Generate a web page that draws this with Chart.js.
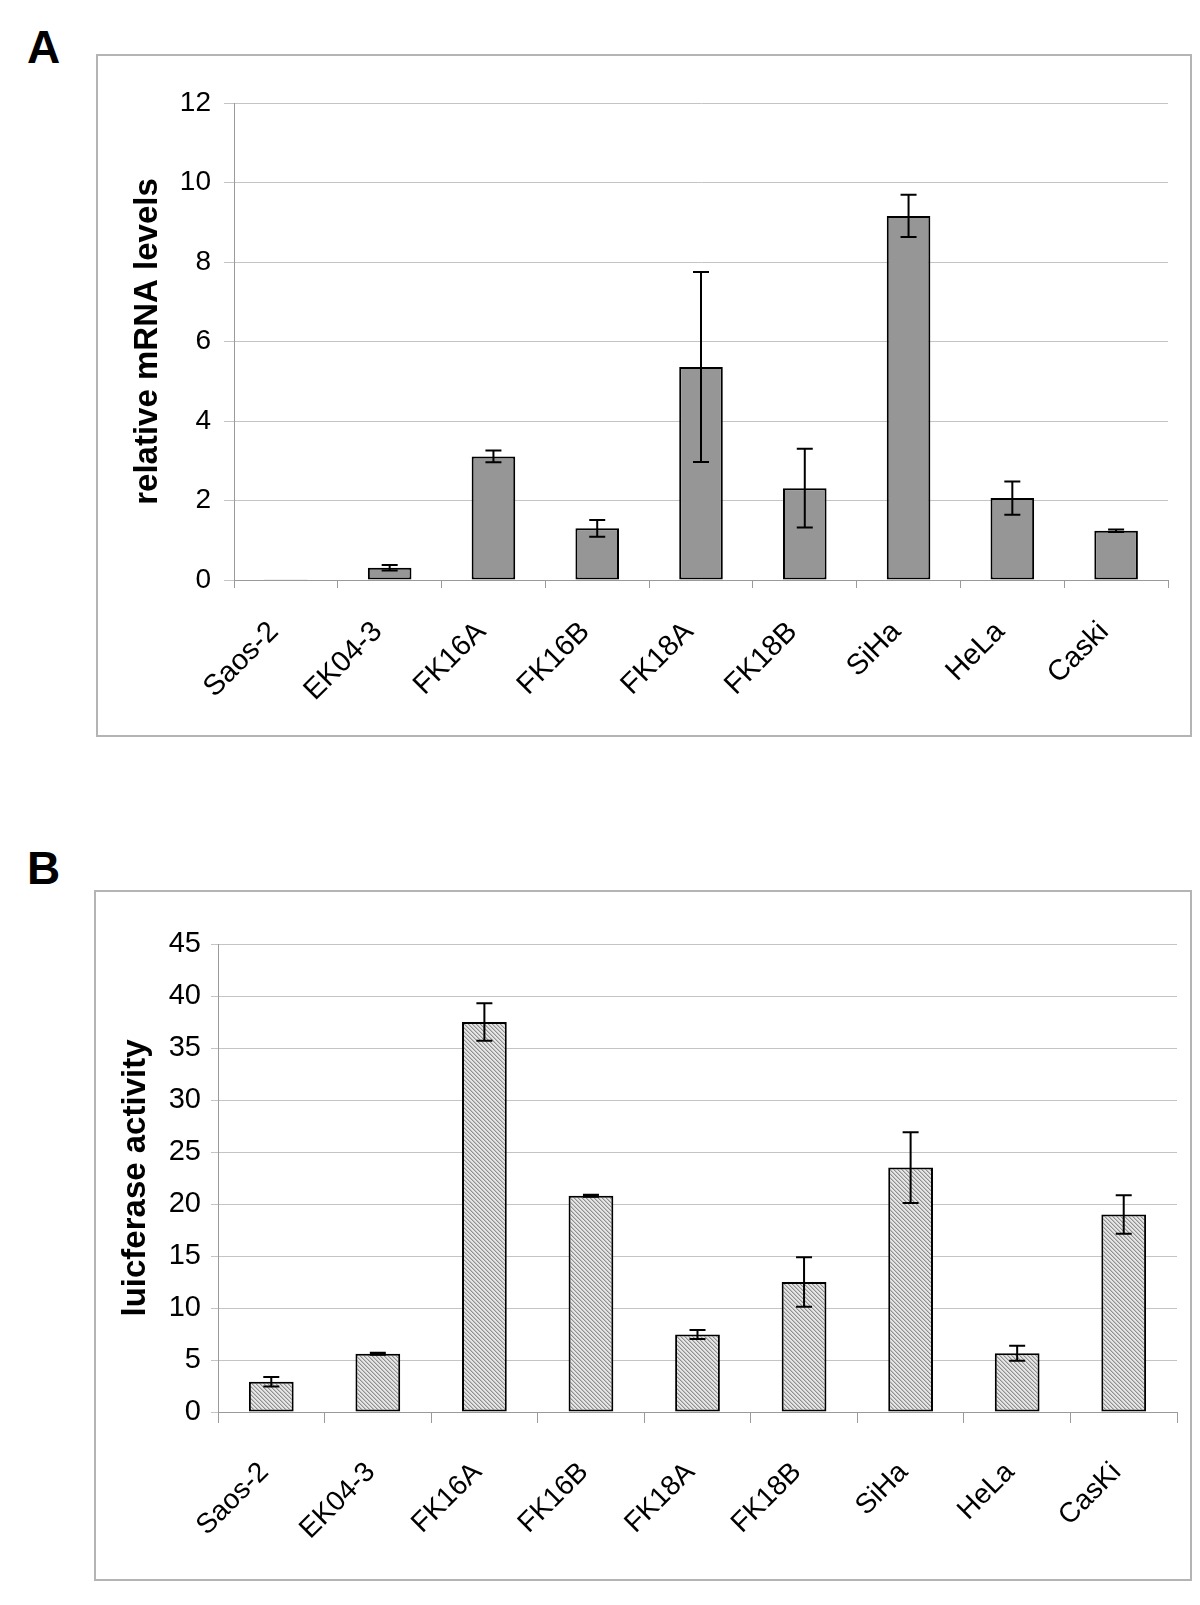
<!DOCTYPE html>
<html>
<head>
<meta charset="utf-8">
<script src="https://cdn.jsdelivr.net/npm/chart.js@4.4.1/dist/chart.umd.min.js"></script>
<style>
  body { margin: 0; background: #fff; width: 1200px; height: 1605px; position: relative; font-family: "Liberation Sans", Arial, sans-serif; }
  .frame { position: absolute; border: 2px solid #b4b4b4; background: #fff; }
  .panel-letter { position: absolute; font-weight: bold; font-size: 46px; line-height: 46px; color: #000; }
  canvas { display: block; }
</style>
</head>
<body>
<div class="panel-letter" style="left:27px; top:24px;">A</div>
<div class="frame" style="left:96px; top:54px; width:1092px; height:679px;">
  <canvas id="chartA" width="1092" height="679"></canvas>
</div>
<div class="panel-letter" style="left:27px; top:845px;">B</div>
<div class="frame" style="left:94px; top:890px; width:1094px; height:687px;">
  <canvas id="chartB" width="1094" height="687"></canvas>
</div>

<script>
// cell lines (x categories)
const cellLinesA = ["Saos-2", "EK04-3", "FK16A", "FK16B", "FK18A", "FK18B", "SiHa", "HeLa", "Caski"];
const cellLinesB = ["Saos-2", "EK04-3", "FK16A", "FK16B", "FK18A", "FK18B", "SiHa", "HeLa", "CasKi"];

// panel A: relative mRNA levels, mean and error
const mrnaLevels = [0.02, 0.31, 3.11, 1.30, 5.36, 2.31, 9.16, 2.06, 1.24];
const mrnaErrors = [0, 0.07, 0.15, 0.21, 2.39, 0.99, 0.53, 0.42, 0.03];

// panel B: luciferase activity, mean and error
const luciferase = [2.9, 5.6, 37.5, 20.8, 7.45, 12.5, 23.5, 5.65, 19.0];
const luciferaseErrors = [0.46, 0.1, 1.8, 0.1, 0.44, 2.38, 3.4, 0.72, 1.85];

// y axis ticks
const yTicksA = { min: 0, max: 12, step: 2 };
const yTicksB = { min: 0, max: 45, step: 5 };

// draws error bars from dataset.errors using the y scale
const errorBarPlugin = {
    id: "errorBars",
    afterDatasetsDraw(chart) {
        const ctx = chart.ctx;
        const yScale = chart.scales.y;
        chart.data.datasets.forEach((ds, i) => {
            const meta = chart.getDatasetMeta(i);
            meta.data.forEach((bar, j) => {
                const err = ds.errors[j];
                if (!err) return;
                const v = ds.data[j];
                const yTop = yScale.getPixelForValue(v + err);
                const yBot = yScale.getPixelForValue(v - err);
                ctx.save();
                ctx.strokeStyle = "#000";
                ctx.lineWidth = 2;
                ctx.beginPath();
                ctx.moveTo(bar.x, yTop);
                ctx.lineTo(bar.x, yBot);
                ctx.moveTo(bar.x - 8, yTop);
                ctx.lineTo(bar.x + 8, yTop);
                ctx.moveTo(bar.x - 8, yBot);
                ctx.lineTo(bar.x + 8, yBot);
                ctx.stroke();
                ctx.restore();
            });
        });
    }
};

// diagonal hatch fill for panel B
function makeHatch() {
    const c = document.createElement("canvas");
    c.width = 4;
    c.height = 4;
    const g = c.getContext("2d");
    g.fillStyle = "#e6e6e6";
    g.fillRect(0, 0, 4, 4);
    g.fillStyle = "#909090";
    for (let i = 0; i < 4; i++) g.fillRect(i, i, 1, 1);
    g.fillStyle = "#c0c0c0";
    for (let i = 0; i < 4; i++) g.fillRect((i + 1) % 4, i, 1, 1);
    return g.createPattern(c, "repeat");
}

function buildChart(id, o) {
    return new Chart(document.getElementById(id), {
        type: "bar",
        data: {
            labels: o.labels,
            datasets: [{
                data: o.values,
                errors: o.errors,
                backgroundColor: o.fill,
                borderColor: "#000",
                borderWidth: 2,
                borderSkipped: false,
                categoryPercentage: 1,
                barPercentage: 0.42
            }]
        },
        options: {
            responsive: false,
            devicePixelRatio: 1,
            animation: false,
            layout: { padding: o.padding },
            plugins: { legend: { display: false }, tooltip: { enabled: false } },
            scales: {
                x: {
                    afterFit: s => { s.height = o.xHeight; },
                    grid: { display: true, drawOnChartArea: false, offset: true, tickLength: o.xTick, color: "#9a9a9a", lineWidth: 1 },
                    border: { color: "#9a9a9a", width: 1 },
                    ticks: {
                        autoSkip: false, minRotation: 45, maxRotation: 45,
                        padding: o.xPad, labelOffset: o.xShift, color: "#000",
                        font: { family: "Liberation Sans", size: o.xFontSize }
                    }
                },
                y: {
                    min: o.yTicks.min,
                    max: o.yTicks.max,
                    afterFit: s => { s.width = o.yWidth; },
                    grid: { color: "#c4c4c4", lineWidth: 1, tickLength: o.yTick },
                    border: { color: "#9a9a9a", width: 1 },
                    ticks: {
                        stepSize: o.yTicks.step, padding: o.yPad, color: "#000",
                        font: { family: "Liberation Sans", size: o.yFontSize }
                    },
                    title: {
                        display: true, text: o.title, color: "#000",
                        font: { family: "Liberation Sans", size: 33, weight: "bold" },
                        padding: { top: o.titlePad, bottom: 0 }
                    }
                }
            }
        },
        plugins: [errorBarPlugin]
    });
}

buildChart("chartA", {
    labels: cellLinesA, values: mrnaLevels, errors: mrnaErrors, fill: "#969696",
    yTicks: yTicksA, title: "relative mRNA levels",
    padding: { top: 47, right: 22, left: 0, bottom: 0 },
    xHeight: 155, yWidth: 136, xTick: 8, yTick: 10, xPad: 27, xShift: -12, yPad: 13, titlePad: 30,
    xFontSize: 29, yFontSize: 28
});

buildChart("chartB", {
    labels: cellLinesB, values: luciferase, errors: luciferaseErrors, fill: makeHatch(),
    yTicks: yTicksB, title: "luicferase activity",
    padding: { top: 52, right: 13, left: 0, bottom: 0 },
    xHeight: 167, yWidth: 122, xTick: 11, yTick: 7, xPad: 33, xShift: -7, yPad: 10, titlePad: 20,
    xFontSize: 28, yFontSize: 29
});
</script>
</body>
</html>
